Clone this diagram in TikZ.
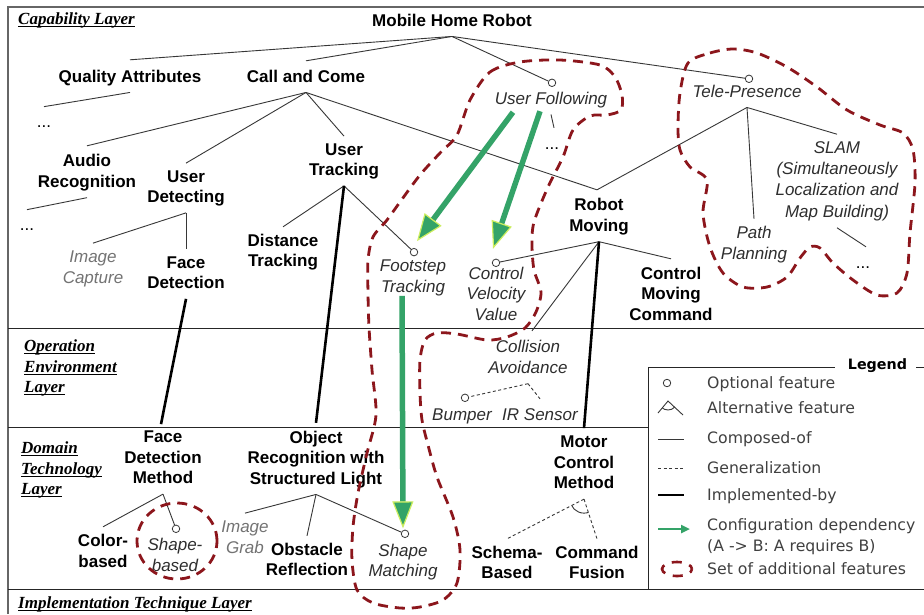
\documentclass[tikz,border=0pt]{standalone}
\usepackage{fontspec}
\setmainfont{Liberation Sans}
\newfontfamily\legendfont{DejaVu Sans}
\newfontfamily\layerfont{Liberation Serif}
\usetikzlibrary{arrows.meta,calc}
\definecolor{setred}{RGB}{140,22,28}
\definecolor{depgreen}{RGB}{52,163,104}
\definecolor{tiprim}{RGB}{205,238,95}
\definecolor{linegray}{RGB}{55,55,55}
% underline placed just under the baseline
\newcommand\ulayer[1]{\setbox0\hbox{#1}\rlap{\rule[-2.6pt]{\wd0}{0.9pt}}\box0}
\begin{document}
\begin{tikzpicture}[x=1pt,y=-1pt,
  feat/.style={inner sep=0pt, align=center, font=\fontsize{17}{20.5}\selectfont\bfseries,
    execute at begin node=\strut, execute at end node=\strut},
  ifeat/.style={feat, font=\fontsize{17}{20.5}\selectfont\itshape, text=black!82},
  pale/.style={text=black!55},
  ellip/.style={inner sep=0pt, font=\fontsize{17}{20.5}\selectfont, execute at begin node=\strut},
  optc/.style={circle, draw=linegray, fill=white, line width=0.8pt, inner sep=0pt, minimum size=7.5pt},
  comp/.style={draw=linegray, line width=0.9pt},
  impl/.style={draw=black, line width=2.6pt},
  gen/.style={draw=linegray, line width=0.9pt, dash pattern=on 3pt off 2.5pt},
  dep/.style={draw=depgreen, line width=5.5pt,
    -{Triangle[length=27pt,width=21pt,fill=depgreen,color=tiprim,line width=1.2pt]}},
  addset/.style={draw=setred, line width=2.8pt, dash pattern=on 10pt off 7pt},
  layerrule/.style={draw=black!85, line width=0.9pt},
  layername/.style={inner sep=0pt, anchor=north west, align=left,
    font=\layerfont\fontsize{17}{20.5}\selectfont\bfseries\itshape, execute at begin node=\strut},
  legtext/.style={inner sep=0pt, anchor=west, align=left, text=black!75,
    font=\legendfont\fontsize{15.7}{21}\selectfont,
    execute at begin node=\strut, execute at end node=\strut},
]
\useasboundingbox (0,0) rectangle (924,614);
\fill[white] (0,0) rectangle (924,614);

% ---------- layer frame ----------
\draw[draw=black!60, line width=1.4pt] (8,614) -- (8,7) -- (924,7);
\draw[layerrule] (8,328) -- (924,328);
\draw[layerrule] (8,427) -- (648,427);
\draw[layerrule] (8,589) -- (924,589);

\node[layername] (lay1) at (18,9.65) {\ulayer{Capability Layer}};
\node[layername] (lay2) at (24,339.65) {\ulayer{Operation}\\\ulayer{Environment}\\\ulayer{Layer}};
\node[layername] (lay3) at (21,441.65) {\ulayer{Domain}\\\ulayer{Technology}\\\ulayer{Layer}};
\node[layername] (lay4) at (18,593.65) {\ulayer{Implementation Technique Layer}};

% ---------- features ----------
\node[feat] (mhr) at (452,22) {Mobile Home Robot};
\node[feat] (qa) at (130,78) {Quality Attributes};
\node[feat] (cc) at (306,78) {Call and Come};
\node[feat] (ar) at (87,174) {Audio\\Recognition};
\node[feat] (ud) at (186,189.5) {User\\Detecting};
\node[feat] (ut) at (344,162.5) {User\\Tracking};
\node[feat] (dt) at (283,253.5) {Distance\\Tracking};
\node[feat] (fd) at (186,275.5) {Face\\Detection};
\node[feat] (rm) at (599,218) {Robot\\Moving};
\node[feat] (cmc) at (671,296.5) {Control\\Moving\\Command};
\node[feat] (fdm) at (163,460.5) {Face\\Detection\\Method};
\node[feat] (orsl) at (316,460.5) {Object\\Recognition with\\Structured Light};
\node[feat] (cb) at (103,554) {Color-\\based};
\node[feat] (obr) at (307,562.5) {Obstacle\\Reflection};
\node[feat] (mcm) at (584,465.5) {Motor\\Control\\Method};
\node[feat] (sb) at (507,565.5) {Schema-\\Based};
\node[feat] (cf) at (597,565.5) {Command\\Fusion};

\node[ifeat] (uf) at (551,100) {User Following};
\node[ifeat] (tp) at (747,93) {Tele-Presence};
\node[ifeat,pale] (ic) at (93,270) {Image\\Capture};
\node[ifeat] (ft) at (413,279) {Footstep\\Tracking};
\node[ifeat] (cvv) at (496,296.5) {Control\\Velocity\\Value};
\node[ifeat] (pp) at (754,246) {Path\\Planning};
\node[ifeat, font=\fontsize{17}{21.3}\selectfont\itshape] (slam) at (837,182.5)
  {SLAM\\(Simultaneously\\Localization and\\Map Building)};
\node[ifeat] (ca) at (528,360) {Collision\\Avoidance};
\node[ifeat] (bu) at (462,416) {Bumper};
\node[ifeat] (irs) at (540,416) {IR Sensor};
\node[ifeat] (sbd) at (175,558) {Shape-\\based};
\node[ifeat,pale] (ig) at (245,540) {Image\\Grab};
\node[ifeat] (sm) at (403,563.5) {Shape\\Matching};

\node[ellip] (d1) at (44,123.1) {...};
\node[ellip] (d2) at (27,226.1) {...};
\node[ellip] (d3) at (552,145.1) {...};
\node[ellip] (d4) at (863,264.1) {...};

% ---------- junction points under parents ----------
\foreach \p in {mhr,qa,cc,ar,ud,ut,rm,tp,uf,slam,fd,fdm,orsl,mcm,ca}
  \coordinate (\p-j) at ([yshift=-4pt]\p.south);

% ---------- optional markers ----------
\node[optc] (uf-o) at ($(uf.north)+(1,-6.75)$) {};
\node[optc] (tp-o) at ($(tp.north)+(2,-3.75)$) {};
\node[optc] (ft-o) at ($(ft.north)+(1,-7.5)$) {};
\node[optc] (cvv-o) at ($(cvv.north)+(0,-3.75)$) {};
\node[optc] (sm-o) at ($(sm.north)+(2,-10)$) {};
\node[optc] (sbd-o) at ($(sbd.north)+(1,-9.5)$) {};
\node[optc] (bu-o) at ($(bu.north)+(3,-7.75)$) {};

% ---------- composed-of ----------
\draw[comp] (mhr-j) -- ([yshift=7.75pt]qa.north);
\draw[comp] (mhr-j) -- ([yshift=6.75pt]cc.north);
\draw[comp] (mhr-j) -- (uf-o);
\draw[comp] (mhr-j) -- (tp-o);
\draw[comp] (qa-j) -- ([yshift=6pt]d1.north);
\draw[comp] (cc-j) -- ([yshift=8.5pt]ar.north);
\draw[comp] (cc-j) -- ([yshift=7pt]ud.north);
\draw[comp] (cc-j) -- ([yshift=7pt]ut.north);
\draw[comp] (cc-j) -- ([xshift=-2pt,yshift=8.5pt]rm.north);
\draw[comp] (tp-j) -- ([xshift=-2pt,yshift=8.5pt]rm.north);
\draw[comp] (tp-j) -- ([yshift=7.5pt]pp.north);
\draw[comp] (tp-j) -- ([yshift=7pt]slam.north);
\draw[comp] (slam-j) -- ([xshift=3pt,yshift=6.85pt]d4.north);
\draw[comp] (uf-j) -- ([xshift=2pt,yshift=6.85pt]d3.north);
\draw[comp] (ar-j) -- ([yshift=6pt]d2.north);
\draw[comp] (ud-j) -- ([yshift=7.5pt]ic.north);
\draw[comp] (ud-j) -- ([yshift=7pt]fd.north);
\draw[comp] (ut-j) -- ([yshift=7pt]dt.north);
\draw[comp] (ut-j) -- (ft-o);
\draw[comp] (rm-j) -- (cvv-o);
\draw[comp] (rm-j) -- ([yshift=7.75pt]cmc.north);
\draw[comp] (rm-j) -- ([xshift=4pt,yshift=9.5pt]ca.north);
\draw[comp] (fdm-j) -- ([yshift=7.5pt]cb.north);
\draw[comp] (fdm-j) -- (sbd-o);
\draw[comp] (orsl-j) -- ([yshift=7.5pt]ig.north);
\draw[comp] (orsl-j) -- ([yshift=7pt]obr.north);
\draw[comp] (orsl-j) -- (sm-o);

% ---------- generalization ----------
\coordinate (sb-t) at ([yshift=7pt]sb.north);
\coordinate (cf-t) at ([yshift=7pt]cf.north);
\draw[gen] (ca-j) -- (bu-o);
\draw[gen] (ca-j) -- ([yshift=6.75pt]irs.north);
\draw[gen] (mcm-j) -- (sb-t);
\draw[gen] (mcm-j) -- (cf-t);
\begin{scope}
  \clip (mcm-j) -- (sb-t) -- (cf-t) -- cycle;
  \draw[comp] (mcm-j) circle[radius=14pt];
\end{scope}

% ---------- implemented-by ----------
\draw[impl] (fd-j) -- ([xshift=-2pt,yshift=6.75pt]fdm.north);
\draw[impl] (ut-j) -- ([yshift=7.75pt]orsl.north);
\draw[impl] (rm-j) -- ([yshift=7.75pt]mcm.north);

% ---------- sets of additional features ----------
\draw[addset] plot[smooth cycle, tension=0.5] coordinates {
  (470,100) (490,72) (520,62) (560,60) (600,65) (615,77) (622,95) (621,110)
  (607,115) (590,116) (573,130) (563,157) (548,187) (534,222) (532,245)
  (534,270) (541,292) (536,312) (525,328) (507,337) (487,340) (457,334)
  (437,333) (425,340) (420,360) (420,393) (422,420) (428,445) (437,477)
  (453,517) (460,550) (457,583) (443,600) (420,607) (400,608) (373,603)
  (357,590) (352,560) (353,527) (358,493) (367,453) (376,415) (372,370)
  (369,327) (368,293) (368,260) (373,237) (387,220) (400,202) (420,175)
  (440,153) (457,135)};
\draw[addset] plot[smooth cycle, tension=0.5] coordinates {
  (688,63) (710,53) (733,49) (757,53) (787,67) (817,87) (847,110) (880,125)
  (903,133) (913,150) (915,183) (910,233) (907,273) (897,293) (877,295)
  (853,280) (833,263) (820,248) (810,247) (800,258) (787,277) (767,287)
  (743,287) (723,273) (710,247) (703,213) (707,180) (690,167) (680,150)
  (678,127) (680,93)};
\draw[addset] (177,541) ellipse[x radius=40pt, y radius=38pt];

% ---------- configuration dependencies ----------
\draw[dep] ($(uf.south)+(-38,1.75)$) -- ($(ft.north)+(4,-18.5)$);
\draw[dep] ($(uf.south)+(-11,0.75)$) -- ($(cvv.north)+(-3,-17.75)$);
\draw[dep] ($(ft.south)+(-11,-2.5)$) -- ($(sm.north)+(0,-15.5)$);

% ---------- legend ----------
\node[inner sep=0pt, font=\legendfont\fontsize{14.3}{17}\selectfont\bfseries] (leg) at (877.5,365.5) {Legend};
\coordinate (lgtop) at (648,367);
\draw[layerrule] (648,589) -- (lgtop) -- ($(lgtop -| leg.west)+(-13,0)$);
\draw[layerrule] ($(lgtop -| leg.east)+(9,0)$) -- (924,367);

\node[legtext] (lg1) at (707,384.5) {Optional feature};
\node[legtext] (lg2) at (707,409.5) {Alternative feature};
\node[legtext] (lg3) at (707,439.5) {Composed-of};
\node[legtext] (lg4) at (707,469.5) {Generalization};
\node[legtext] (lg5) at (707,496.5) {Implemented-by};
\node[legtext] (lg6) at (707,538) {Configuration dependency\\(A -> B: A requires B)};
\node[legtext] (lg7) at (707,570.5) {Set of additional features};

\node[optc] (lgo) at ($(lg1.west)+(-40,-1.5)$) {};
\coordinate (alt-p) at ($(lg2.west)+(-39,-8.5)$);
\coordinate (alt-l) at ($(lg2.west)+(-49,3.5)$);
\coordinate (alt-r) at ($(lg2.west)+(-24,5.5)$);
\draw[comp] (alt-l) -- (alt-p) -- (alt-r);
\begin{scope}
  \clip (alt-p) -- (alt-l) -- (alt-r) -- cycle;
  \draw[comp] (alt-p) circle[radius=9pt];
\end{scope}
\draw[comp] ($(lg3.west)+(-49,-0.5)$) -- ($(lg3.west)+(-23,-0.5)$);
\draw[gen] ($(lg4.west)+(-49,-1.5)$) -- ($(lg4.west)+(-23,-1.5)$);
\draw[impl] ($(lg5.west)+(-49,-1.5)$) -- ($(lg5.west)+(-23,-1.5)$);
\draw[draw=depgreen, line width=2.3pt, -{Triangle[length=9pt,width=8pt]}]
  ($(lg6.west)+(-49,-9)$) -- ($(lg6.west)+(-17,-9)$);
\draw[addset, line width=2.6pt, dash pattern=on 10pt off 8pt, dash phase=5pt]
  ($(lg7.west)+(-30,-1.5)$) ellipse[x radius=15pt, y radius=7pt];
\end{tikzpicture}
\end{document}
